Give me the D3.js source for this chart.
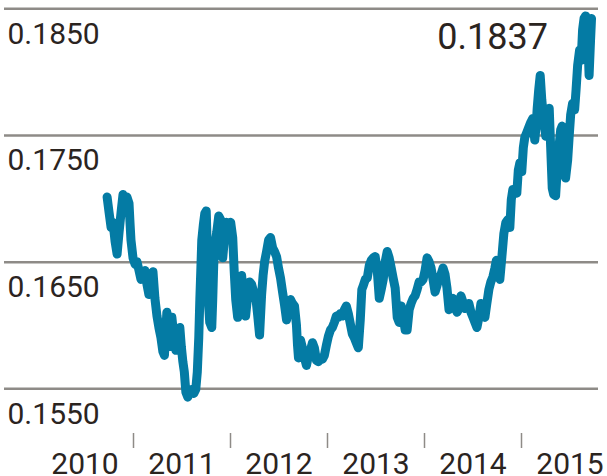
<!DOCTYPE html>
<html><head><meta charset="utf-8">
<script src="https://cdn.jsdelivr.net/npm/d3@7"></script>
<style>html,body{margin:0;padding:0;background:#fff;} svg{display:block;}</style>
</head><body>
<script>
const years = [2010.733,2010.753,2010.774,2010.794,2010.815,2010.836,2010.856,2010.877,2010.897,2010.918,
2010.938,2010.959,2010.969,2010.979,2011.000,2011.021,2011.041,2011.062,2011.082,2011.103,
2011.123,2011.144,2011.164,2011.185,2011.206,2011.226,2011.247,2011.267,2011.288,2011.308,
2011.324,2011.339,2011.349,2011.370,2011.385,2011.401,2011.421,2011.442,2011.462,2011.483,
2011.498,2011.514,2011.529,2011.545,2011.565,2011.586,2011.606,2011.627,2011.647,2011.663,
2011.678,2011.689,2011.699,2011.709,2011.725,2011.740,2011.755,2011.766,2011.776,2011.791,
2011.812,2011.822,2011.832,2011.843,2011.863,2011.884,2011.904,2011.925,2011.946,2011.966,
2011.987,2012.007,2012.028,2012.043,2012.059,2012.079,2012.100,2012.120,2012.141,2012.161,
2012.182,2012.202,2012.223,2012.244,2012.264,2012.285,2012.305,2012.326,2012.341,2012.357,
2012.377,2012.398,2012.418,2012.439,2012.459,2012.480,2012.500,2012.521,2012.542,2012.562,
2012.583,2012.603,2012.624,2012.644,2012.665,2012.685,2012.696,2012.706,2012.727,2012.747,
2012.768,2012.788,2012.809,2012.829,2012.850,2012.870,2012.891,2012.912,2012.932,2012.953,
2012.973,2012.994,2013.014,2013.035,2013.055,2013.076,2013.096,2013.117,2013.138,2013.158,
2013.179,2013.199,2013.220,2013.240,2013.261,2013.281,2013.302,2013.323,2013.343,2013.359,
2013.374,2013.395,2013.415,2013.436,2013.456,2013.477,2013.497,2013.518,2013.539,2013.559,
2013.580,2013.600,2013.621,2013.641,2013.662,2013.682,2013.703,2013.724,2013.744,2013.765,
2013.785,2013.806,2013.826,2013.847,2013.867,2013.888,2013.908,2013.929,2013.950,2013.970,
2013.991,2014.011,2014.032,2014.052,2014.073,2014.093,2014.114,2014.134,2014.155,2014.176,
2014.196,2014.217,2014.237,2014.258,2014.278,2014.299,2014.320,2014.340,2014.361,2014.381,
2014.402,2014.422,2014.443,2014.463,2014.484,2014.505,2014.525,2014.546,2014.566,2014.587,
2014.607,2014.628,2014.648,2014.669,2014.689,2014.710,2014.731,2014.746,2014.761,2014.782,
2014.803,2014.823,2014.844,2014.864,2014.885,2014.900,2014.916,2014.936,2014.957,2014.972,
2014.988,2015.008,2015.024,2015.039,2015.060,2015.080,2015.101,2015.121,2015.142,2015.157,
2015.167,2015.183,2015.198,2015.214,2015.234,2015.255,2015.275,2015.291,2015.306,2015.322,
2015.337,2015.357,2015.373,2015.388,2015.409,2015.424,2015.440,2015.460,2015.481,2015.496,
2015.512,2015.532,2015.553,2015.568,2015.584,2015.604,2015.620,2015.635,2015.650,2015.666,
2015.686,2015.702,2015.717,2015.727];

const values = [0.1701,0.1689,0.1677,0.1681,0.1666,0.1656,0.1673,0.1689,0.1703,0.1699,
0.1701,0.1696,0.1681,0.1667,0.1653,0.1648,0.1650,0.1643,0.1636,0.1639,
0.1643,0.1632,0.1624,0.1629,0.1642,0.1621,0.1607,0.1598,0.1590,0.1579,
0.1576,0.1596,0.1610,0.1598,0.1583,0.1606,0.1591,0.1580,0.1591,0.1598,
0.1583,0.1571,0.1563,0.1547,0.1543,0.1547,0.1549,0.1546,0.1549,0.1563,
0.1590,0.1620,0.1643,0.1667,0.1679,0.1688,0.1690,0.1659,0.1620,0.1602,
0.1598,0.1620,0.1647,0.1663,0.1673,0.1686,0.1683,0.1653,0.1671,0.1681,
0.1680,0.1681,0.1669,0.1643,0.1620,0.1606,0.1628,0.1639,0.1620,0.1607,
0.1623,0.1634,0.1632,0.1626,0.1623,0.1608,0.1592,0.1624,0.1639,0.1650,
0.1658,0.1667,0.1669,0.1661,0.1658,0.1654,0.1645,0.1637,0.1626,0.1616,
0.1604,0.1615,0.1620,0.1617,0.1615,0.1600,0.1584,0.1574,0.1588,0.1582,
0.1574,0.1568,0.1576,0.1580,0.1586,0.1582,0.1572,0.1571,0.1574,0.1573,
0.1576,0.1584,0.1591,0.1596,0.1598,0.1602,0.1607,0.1606,0.1609,0.1607,
0.1612,0.1615,0.1609,0.1601,0.1593,0.1590,0.1586,0.1582,0.1604,0.1628,
0.1631,0.1636,0.1637,0.1647,0.1651,0.1653,0.1654,0.1643,0.1621,0.1628,
0.1636,0.1650,0.1658,0.1653,0.1645,0.1637,0.1629,0.1606,0.1602,0.1615,
0.1606,0.1596,0.1596,0.1612,0.1617,0.1621,0.1623,0.1628,0.1634,0.1634,
0.1636,0.1643,0.1653,0.1650,0.1645,0.1636,0.1626,0.1631,0.1637,0.1640,
0.1645,0.1640,0.1629,0.1612,0.1617,0.1621,0.1615,0.1610,0.1613,0.1623,
0.1618,0.1613,0.1615,0.1617,0.1610,0.1606,0.1602,0.1598,0.1606,0.1617,
0.1610,0.1606,0.1617,0.1628,0.1634,0.1638,0.1645,0.1651,0.1643,0.1636,
0.1654,0.1672,0.1681,0.1683,0.1677,0.1699,0.1707,0.1705,0.1704,0.1722,
0.1728,0.1721,0.1740,0.1748,0.1752,0.1756,0.1760,0.1763,0.1746,0.1758,
0.1771,0.1786,0.1797,0.1778,0.1762,0.1749,0.1766,0.1771,0.1740,0.1708,
0.1703,0.1702,0.1722,0.1738,0.1754,0.1757,0.1738,0.1716,0.1730,0.1748,
0.1766,0.1775,0.1770,0.1786,0.1805,0.1817,0.1809,0.1833,0.1842,0.1844,
0.1833,0.1797,0.1825,0.1842];

const yTicks = [0.1550, 0.1650, 0.1750, 0.1850];
const xTickYears = [2011, 2012, 2013, 2014, 2015];
const xLabelYears = [2010, 2011, 2012, 2013, 2014, 2015];
const lastLabel = "0.1837";

const W = 607, H = 476;
const FONT = "Roboto, 'Liberation Sans', Arial, sans-serif";
const TEXT = "#2b241f";
const GRID = "#8e8b87";
const LINE = "#047ba4";

const svg = d3.select("body").append("svg").attr("width", W).attr("height", H)
  .style("font-family", FONT);

const x = d3.scaleLinear().domain([2010, 2016]).range([36, 618]);
const y = d3.scaleLinear().domain([0.1550, 0.1850]).range([388.3, 8.3]);

// horizontal gridlines + value labels
const gy = svg.append("g").attr("transform", "translate(4,0)")
  .call(d3.axisRight(y).tickValues(yTicks).tickSize(594).tickFormat(d3.format(".4f")));
gy.select(".domain").remove();
gy.selectAll(".tick line").attr("stroke", GRID).attr("stroke-width", 2.5);
gy.selectAll(".tick text")
  .attr("x", 3.5).attr("y", 35).attr("dy", null)
  .attr("text-anchor", "start")
  .attr("fill", TEXT).style("font-size", "30px").style("font-family", FONT);

// x ticks at year boundaries
const gx = svg.append("g").attr("transform", "translate(0,433)")
  .call(d3.axisBottom(x).tickValues(xTickYears).tickSize(15).tickFormat(""));
gx.select(".domain").remove();
gx.selectAll(".tick line").attr("stroke", GRID).attr("stroke-width", 1.5);

// year labels centred in each year
const gl = svg.append("g").attr("transform", "translate(0,433)")
  .call(d3.axisBottom(x).tickValues(xLabelYears.map(d => d + 0.5)).tickSize(0)
    .tickFormat(d => String(Math.floor(d))));
gl.select(".domain").remove();
gl.selectAll(".tick text").attr("y", 41).attr("dy", null)
  .attr("fill", TEXT).style("font-size", "30px").style("font-family", FONT);

// series line
const line = d3.line()
  .x((d, i) => x(years[i]))
  .y(d => y(d));
svg.append("path").datum(values)
  .attr("d", line)
  .attr("fill", "none")
  .attr("stroke", LINE)
  .attr("stroke-width", 9)
  .attr("stroke-linejoin", "round")
  .attr("stroke-linecap", "round");

// annotation of latest value
svg.append("text")
  .attr("x", 548).attr("y", 49)
  .attr("text-anchor", "end")
  .attr("fill", TEXT)
  .style("font-size", "36px")
  .text(lastLabel);
</script>
</body></html>
